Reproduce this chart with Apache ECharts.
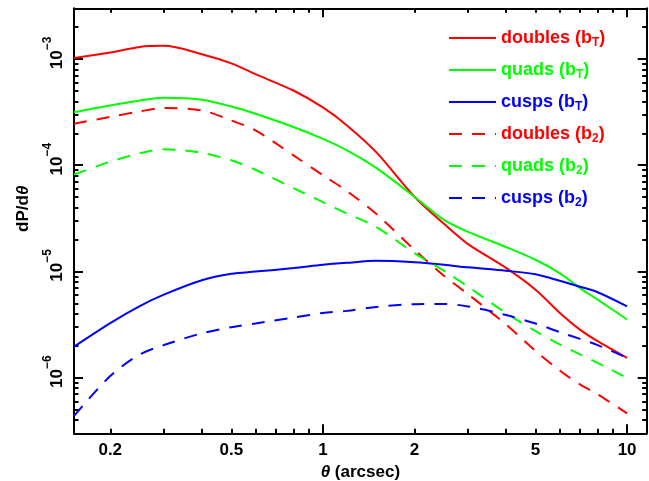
<!DOCTYPE html>
<html>
<head>
<meta charset="utf-8">
<script src="https://cdn.jsdelivr.net/npm/echarts@6/dist/echarts.min.js"></script>
<style>
  html, body { margin: 0; padding: 0; background: #fff; }
  #chart { width: 649px; height: 481px; }
</style>
</head>
<body>
<div id="chart"></div>
<script>
// angular separation (arcsec)
const theta = [0.152, 0.2, 0.25, 0.3, 0.4, 0.5, 0.6, 0.8, 1, 1.2, 1.5, 2, 2.5, 3, 4, 5, 6, 7, 8, 10];

// dP/dtheta for each image configuration
const doublesT = [1.02e-3, 1.15e-3, 1.30e-3, 1.33e-3, 1.11e-3, 9.1e-4, 7.2e-4, 5.05e-4, 3.5e-4, 2.37e-4, 1.32e-4, 5.05e-5, 2.81e-5, 1.81e-5, 1.08e-5, 6.74e-6, 4.1e-6, 2.84e-6, 2.21e-6, 1.54e-6];
const quadsT = [3.16e-4, 3.65e-4, 4.07e-4, 4.31e-4, 4.13e-4, 3.57e-4, 3.05e-4, 2.29e-4, 1.77e-4, 1.38e-4, 9.38e-5, 5.05e-5, 3.06e-5, 2.36e-5, 1.70e-5, 1.29e-5, 9.66e-6, 6.98e-6, 5.43e-6, 3.53e-6];
const cuspsT = [1.96e-6, 3.27e-6, 4.72e-6, 6.05e-6, 8.27e-6, 9.51e-6, 9.98e-6, 1.076e-5, 1.156e-5, 1.207e-5, 1.26e-5, 1.22e-5, 1.156e-5, 1.094e-5, 1.015e-5, 9.41e-6, 8.18e-6, 7.19e-6, 6.38e-6, 4.70e-6];
const doubles2 = [2.46e-4, 2.85e-4, 3.21e-4, 3.46e-4, 3.28e-4, 2.64e-4, 2.13e-4, 1.24e-4, 8.06e-5, 5.71e-5, 3.47e-5, 1.60e-5, 9.12e-6, 6.11e-6, 3.17e-6, 1.79e-6, 1.17e-6, 8.65e-7, 6.97e-7, 4.62e-7];
const quads2 = [8.18e-5, 1.08e-4, 1.296e-4, 1.413e-4, 1.309e-4, 1.114e-4, 9.07e-5, 6.09e-5, 4.50e-5, 3.51e-5, 2.62e-5, 1.488e-5, 1.015e-5, 7.19e-6, 4.06e-6, 2.75e-6, 2.06e-6, 1.66e-6, 1.38e-6, 9.97e-7];
const cusps2 = [4.37e-7, 1.038e-6, 1.657e-6, 2.03e-6, 2.62e-6, 2.99e-6, 3.24e-6, 3.68e-6, 4.07e-6, 4.26e-6, 4.64e-6, 4.93e-6, 4.95e-6, 4.69e-6, 3.89e-6, 3.24e-6, 2.69e-6, 2.32e-6, 2.03e-6, 1.537e-6];

// tick positions
const xLabelTicks = [0.2, 0.5, 1, 2, 5, 10];
const xMajorTicks = [1, 10];
const xMinorTicks = [0.2, 0.3, 0.4, 0.5, 0.6, 0.7, 0.8, 0.9, 2, 3, 4, 5, 6, 7, 8, 9];
const yMajorTicks = [1e-6, 1e-5, 1e-4, 1e-3];
const yMinorTicks = [4e-7, 5e-7, 6e-7, 7e-7, 8e-7, 9e-7,
  2e-6, 3e-6, 4e-6, 5e-6, 6e-6, 7e-6, 8e-6, 9e-6,
  2e-5, 3e-5, 4e-5, 5e-5, 6e-5, 7e-5, 8e-5, 9e-5,
  2e-4, 3e-4, 4e-4, 5e-4, 6e-4, 7e-4, 8e-4, 9e-4,
  2e-3];
const xRange = [0.152, 11.6];
const yRange = [3e-7, 3e-3];

const FONT = '"Liberation Sans", Arial, sans-serif';
const lg = Math.log10;

const seriesDefs = [
  {name: 'doubles (bT)', values: doublesT, color: '#ff0000', dash: 'solid', key: 'r'},
  {name: 'quads (bT)', values: quadsT, color: '#00ff00', dash: 'solid', key: 'g'},
  {name: 'cusps (bT)', values: cuspsT, color: '#0000ff', dash: 'solid', key: 'b'},
  {name: 'doubles (b2)', values: doubles2, color: '#ff0000', dash: [13, 10], key: 'r'},
  {name: 'quads (b2)', values: quads2, color: '#00ff00', dash: [13, 10], key: 'g'},
  {name: 'cusps (b2)', values: cusps2, color: '#0000ff', dash: [13, 10], key: 'b'}
];

const series = seriesDefs.map(s => ({
  name: s.name,
  type: 'line',
  xAxisIndex: 0,
  yAxisIndex: 0,
  symbol: 'none',
  showSymbol: false,
  smooth: 0.3,
  silent: true,
  lineStyle: {color: s.color, width: 2, type: s.dash},
  itemStyle: {color: s.color},
  data: theta.map((t, i) => [lg(t), lg(s.values[i])])
}));

const frame = {show: true, onZero: false, lineStyle: {color: '#000', width: 2}};
const noLine = {show: false, onZero: false};

function xAxisOf(position, ticks, len, withLabels) {
  return {
    type: 'value',
    position: position,
    min: lg(xRange[0]),
    max: lg(xRange[1]),
    splitLine: {show: false},
    axisLine: withLabels !== null ? frame : noLine,
    axisTick: {show: true, inside: true, length: len, lineStyle: {color: '#000', width: 2}, customValues: ticks.map(lg)},
    axisLabel: withLabels ? {
      show: true, margin: 9, color: '#000', fontFamily: FONT, fontWeight: 'bold', fontSize: 17,
      customValues: xLabelTicks.map(lg),
      formatter: v => String(Number(Math.pow(10, v).toPrecision(2)))
    } : {show: false}
  };
}

function yAxisOf(position, ticks, len, withLabels) {
  return {
    type: 'value',
    position: position,
    min: lg(yRange[0]),
    max: lg(yRange[1]),
    splitLine: {show: false},
    axisLine: withLabels !== null ? frame : noLine,
    axisTick: {show: true, inside: true, length: len, lineStyle: {color: '#000', width: 2}, customValues: ticks.map(lg)},
    axisLabel: withLabels ? {
      show: true, rotate: 90, margin: 8, color: '#000', fontFamily: FONT,
      padding: [0, 0, 0, 12],
      customValues: yMajorTicks.map(lg),
      formatter: v => '{b|10}{sup|\u2212' + Math.round(-v) + '}',
      rich: {
        b: {fontSize: 17, fontWeight: 'bold', fontFamily: FONT, lineHeight: 18, verticalAlign: 'bottom'},
        sup: {fontSize: 12, fontWeight: 'bold', fontFamily: FONT, lineHeight: 12, padding: [0, 0, 12, 0], verticalAlign: 'bottom'}
      }
    } : {show: false}
  };
}

const xBottom = xAxisOf('bottom', xMajorTicks, 9, true);
xBottom.name = '{i|\u03b8} (arcsec)';
xBottom.nameLocation = 'middle';
xBottom.nameGap = 21;
xBottom.nameTextStyle = {
  color: '#000', fontFamily: FONT, fontWeight: 'bold', fontSize: 17,
  rich: {i: {fontFamily: FONT, fontStyle: 'italic', fontWeight: 'bold', fontSize: 17, color: '#000'}}
};

const yLeft = yAxisOf('left', yMajorTicks, 9, true);
yLeft.name = 'dP/d{i|\u03b8}';
yLeft.nameLocation = 'middle';
yLeft.nameGap = 42;
yLeft.nameRotate = 90;
yLeft.nameTextStyle = {
  color: '#000', fontFamily: FONT, fontWeight: 'bold', fontSize: 17, padding: [0, 0, 0, 24],
  rich: {i: {fontFamily: FONT, fontStyle: 'italic', fontWeight: 'bold', fontSize: 17, color: '#000'}}
};

const subColor = {r: '#ff0000', g: '#00ff00', b: '#0000ff'};
const legendRich = {};
Object.keys(subColor).forEach(k => {
  legendRich['sub' + k] = {fontSize: 12, fontWeight: 'bold', fontFamily: FONT, color: subColor[k], lineHeight: 12, padding: [12, 0, 0, 0], verticalAlign: 'bottom'};
});

const option = {
  backgroundColor: '#fff',
  animation: false,
  grid: {left: 74, right: 2.3, top: 8.3, bottom: 47.7, containLabel: false, outerBoundsMode: 'none'},
  xAxis: [
    xBottom,
    xAxisOf('bottom', xMinorTicks, 4.5, null),
    xAxisOf('top', xMajorTicks, 9, false),
    xAxisOf('top', xMinorTicks, 4.5, null)
  ],
  yAxis: [
    yLeft,
    yAxisOf('left', yMinorTicks, 4.5, null),
    yAxisOf('right', yMajorTicks, 9, false),
    yAxisOf('right', yMinorTicks, 4.5, null)
  ],
  legend: {
    orient: 'vertical',
    left: 443,
    top: 20,
    itemWidth: 47,
    itemHeight: 14,
    itemGap: 8,
    selectedMode: false,
    itemStyle: {opacity: 0},
    data: seriesDefs.map(s => ({name: s.name, textStyle: {color: s.color}})),
    formatter: name => {
      const d = seriesDefs.find(s => s.name === name);
      const m = name.match(/^(.*\(b)(.)\)$/);
      return m[1] + '{sub' + d.key + '|' + m[2] + '})';
    },
    textStyle: {fontFamily: FONT, fontWeight: 'bold', fontSize: 18, lineHeight: 22, rich: legendRich}
  },
  series: series
};

const chart = echarts.init(document.getElementById('chart'), null, {renderer: 'canvas'});
chart.setOption(option);
</script>
</body>
</html>
